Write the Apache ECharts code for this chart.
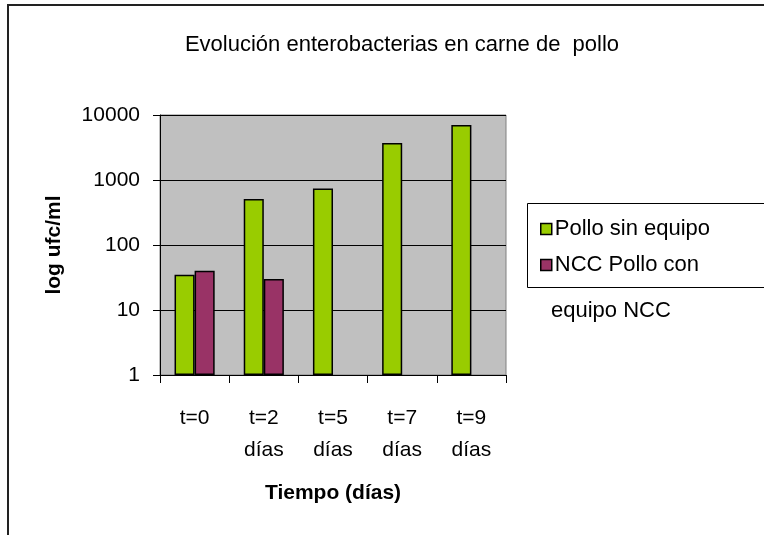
<!DOCTYPE html>
<html><head><meta charset="utf-8">
<script src="https://cdn.jsdelivr.net/npm/echarts@6/dist/echarts.min.js"></script>
<style>html,body{margin:0;padding:0;background:#fff}#c{width:764px;height:535px}</style>
</head><body><div id="c"></div>
<script>
var categories = ['t=0', 't=2\ndías', 't=5\ndías', 't=7\ndías', 't=9\ndías'];
var sinEquipo = [35, 510, 740, 3700, 7000];
var conEquipo = [40, 30, null, null, null];
var seriesNames = ['Pollo sin equipo', 'NCC Pollo con equipo NCC'];
var titleText = 'Evolución enterobacterias en carne de  pollo';
var FONT = "'Liberation Sans', Arial, sans-serif";
var chart = echarts.init(document.getElementById('c'));
chart.setOption({
  animation: false,
  backgroundColor: '#fff',
  textStyle: { fontFamily: FONT },
  title: {
    text: titleText, left: 397, top: 29, textAlign: 'center',
    textStyle: { fontFamily: FONT, fontSize: 22, fontWeight: 'normal', color: '#000' }
  },
  grid: { left: 160, right: 258, top: 115, bottom: 160, show: true, backgroundColor: '#c0c0c0', borderColor: '#808080', borderWidth: 1 },
  legend: {
    orient: 'vertical', left: 535, top: 213, itemWidth: 11, itemHeight: 11, itemGap: 14,
    icon: 'rect',
    formatter: function (n) { return n === seriesNames[1] ? 'NCC Pollo con' : n; },
    textStyle: { fontFamily: FONT, fontSize: 22, color: '#000', padding: [0, 0, 0, -2] },
    itemStyle: { borderColor: '#000', borderWidth: 1.5 }
  },
  graphic: [
    { type: 'rect', shape: { x: 8, y: 5, width: 800, height: 600 }, style: { fill: 'none', stroke: '#222', lineWidth: 2 }, silent: true },
    { type: 'rect', shape: { x: 527.5, y: 203.5, width: 300, height: 84 }, style: { fill: 'none', stroke: '#000', lineWidth: 1 }, silent: true },
    { type: 'text', left: 551, top: 300, style: { text: 'equipo NCC', font: "22px " + FONT, fill: '#000' } }
  ],
  xAxis: {
    type: 'category', data: categories,
    axisLine: { lineStyle: { color: '#000', width: 1 } },
    axisTick: { show: true, length: 8, lineStyle: { color: '#000' } },
    axisLabel: { color: '#000', fontSize: 21, fontFamily: FONT, margin: 27, lineHeight: 32 },
    name: 'Tiempo (días)', nameLocation: 'middle', nameGap: 108,
    nameTextStyle: { fontFamily: FONT, fontSize: 21, fontWeight: 'bold', color: '#000' }
  },
  yAxis: {
    type: 'log', logBase: 10, min: 1, max: 10000,
    axisLine: { show: true, lineStyle: { color: '#000', width: 1 } },
    axisTick: { show: true, length: 7, lineStyle: { color: '#000' } },
    splitLine: { show: true, lineStyle: { color: '#000', width: 1 } },
    axisLabel: { color: '#000', fontSize: 21, fontFamily: FONT, margin: 20,
      formatter: function (v) { return String(Math.round(v)); } },
    name: 'log ufc/ml', nameLocation: 'middle', nameGap: 95,
    nameTextStyle: { fontFamily: FONT, fontSize: 21, fontWeight: 'bold', color: '#000' }
  },
  series: [
    { name: seriesNames[0], type: 'bar', data: sinEquipo, barGap: '0%', barCategoryGap: '42%',
      itemStyle: { color: '#99cc00', borderColor: '#000', borderWidth: 1.5 } },
    { name: seriesNames[1], type: 'bar', data: conEquipo,
      itemStyle: { color: '#993366', borderColor: '#000', borderWidth: 1.5 } }
  ]
});
</script></body></html>
